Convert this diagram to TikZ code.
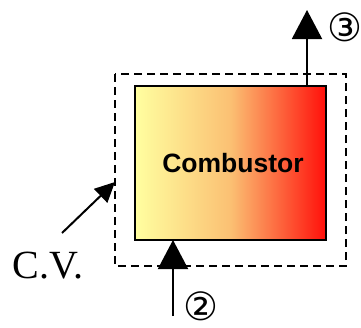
\documentclass[tikz,border=0pt]{standalone}
\usepackage{fontspec}
\setmainfont{Liberation Serif}
\newfontfamily\labsans{Liberation Sans}
\newfontfamily\circfont{DejaVu Sans}
\usetikzlibrary{arrows.meta,calc}
\definecolor{lyel}{RGB}{255,255,160}
\definecolor{morange}{RGB}{251,192,115}
\definecolor{hred}{RGB}{255,15,10}
\begin{document}
\begin{tikzpicture}[x=1pt,y=-1pt,
  flow/.style={line width=2pt,-{Triangle[length=29pt,width=30pt]}},
  cvarrow/.style={line width=2pt,-{Triangle[length=20pt,width=19pt]}},
  cvbox/.style={draw,dashed,line width=1.5pt,dash pattern=on 8pt off 5pt},
  combbox/.style={draw,line width=1.5pt,left color=lyel,right color=hred,middle color=morange},
  circlab/.style={font=\circfont\fontsize{39}{39}\selectfont,inner sep=0pt}]
\useasboundingbox (0,0) rectangle (361,327);
% control volume
\draw[cvbox] (115,74) rectangle (346,266);
\coordinate (cvleft) at (115,182);
% combustor
\path[combbox] (135,86) rectangle (326,240);
\node[inner sep=0pt,font=\labsans\bfseries\fontsize{26.5}{26.5}\selectfont] (comb) at (233,163) {Combustor};
\coordinate (inlet) at (173,240);
\coordinate (instart) at (173,316);
\coordinate (outlet) at (307,86);
\coordinate (outend) at (307,10);
\draw[flow] (instart) -- (inlet);
\draw[flow] (outlet) -- (outend);
\node[circlab] (s2) at (201,306) {②};
\node[circlab] (s3) at (345,27) {③};
\node[inner sep=0pt,font=\fontsize{40}{40}\selectfont] (cv) at (48,266) {C.V.};
\coordinate (cvtail) at (62,233);
\draw[cvarrow] (cvtail) -- (cvleft);
\end{tikzpicture}
\end{document}
